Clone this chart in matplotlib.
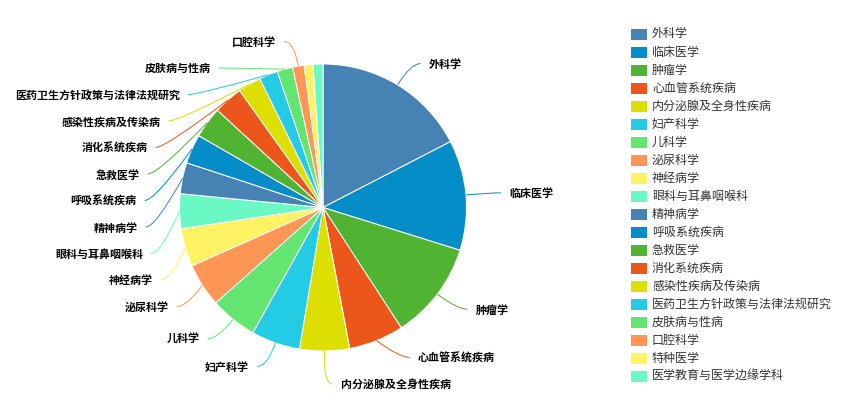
import numpy as np
import matplotlib
matplotlib.use("Agg")
import matplotlib.pyplot as plt
from matplotlib.path import Path
from matplotlib.patches import PathPatch, Rectangle

plt.rcParams['font.family'] = ['Noto Sans CJK SC', 'DejaVu Sans']

# subject areas and their share (%)
categories = ["外科学", "临床医学", "肿瘤学", "心血管系统疾病", "内分泌腺及全身性疾病",
              "妇产科学", "儿科学", "泌尿科学", "神经病学", "眼科与耳鼻咽喉科",
              "精神病学", "呼吸系统疾病", "急救医学", "消化系统疾病", "感染性疾病及传染病",
              "医药卫生方针政策与法律法规研究", "皮肤病与性病", "口腔科学", "特种医学",
              "医学教育与医学边缘学科"]
shares = [17.4, 12.4, 11.0, 6.2, 5.6, 5.5, 5.3, 4.9, 4.3, 3.9,
          3.5, 3.3, 3.5, 3.3, 2.6, 2.1, 1.75, 1.3, 1.0, 1.1]

palette = ['#4682B4', '#058DC7', '#50B432', '#ED561B', '#DDDF00',
           '#24CBE5', '#64E572', '#FF9655', '#FFF263', '#6AF9C4']
colors = [palette[i % len(palette)] for i in range(len(shares))]

W, H = 850, 403
fig = plt.figure(figsize=(W / 100, H / 100), dpi=100)
ax = fig.add_axes([0, 0, 1, 1])

# work in pixel units, y measured from the top
cx, cy, r = 323, 207.5, 143.5
px = 72 / 100  # points per pixel


def fy(y):
    return H - y


wedges, _ = ax.pie(shares, colors=colors, startangle=90, counterclock=False,
                   center=(cx, fy(cy)), radius=r, frame=True,
                   wedgeprops=dict(edgecolor='white', linewidth=1 * px))
ax.set_xlim(0, W)
ax.set_ylim(0, H)
ax.set_aspect('auto')
ax.axis('off')

# data labels with connectors
frac = np.array(shares) / sum(shares)
mids = (np.cumsum(frac) - frac / 2) * 360
r1 = r + 25      # first leg of the connector
leg2 = 10        # horizontal leg
spacing = 26.5   # min distance between labels
y_min, y_max = 30, 384

for side in (1, -1):
    idx = [i for i in range(len(shares))
           if frac[i] * 360 >= 4.5 and np.sign(np.sin(np.radians(mids[i]))) == side]
    ys = {i: cy - r1 * np.cos(np.radians(mids[i])) for i in idx}
    order = sorted(idx, key=lambda i: ys[i])
    for a, b in zip(order, order[1:]):
        ys[b] = max(ys[b], ys[a] + spacing)
    if ys[order[-1]] > y_max:
        ys[order[-1]] = y_max
        for a, b in zip(order[::-1], order[::-1][1:]):
            ys[b] = min(ys[b], ys[a] - spacing)
    for i in order:
        th = np.radians(mids[i])
        y = ys[i]
        dy = y - cy
        rb = max(r1, abs(dy))
        x1 = cx + side * np.sqrt(max(0.0, 1 - (dy / rb) ** 2)) * r1
        x2 = x1 + side * leg2
        p0 = (cx + r * np.sin(th), fy(cy - r * np.cos(th)))
        path = Path([p0, (x1, fy(y)), (x2, fy(y))],
                    [Path.MOVETO, Path.CURVE3, Path.CURVE3])
        ax.add_patch(PathPatch(path, facecolor='none', edgecolor=colors[i],
                               linewidth=1 * px))
        ax.text(x2 + side * 8, fy(y + 1), categories[i], fontsize=11 * px,
                fontweight='bold', color='black',
                ha='left' if side > 0 else 'right', va='center')

# legend
for i, (name, c) in enumerate(zip(categories, colors)):
    y = 34 + i * 18.04
    ax.add_patch(Rectangle((631, fy(y + 5.5)), 16, 11, facecolor=c, edgecolor='none'))
    ax.text(652, fy(y), name, fontsize=12 * px, color='#333333', va='center', ha='left')

fig.savefig("out.png", dpi=100)
